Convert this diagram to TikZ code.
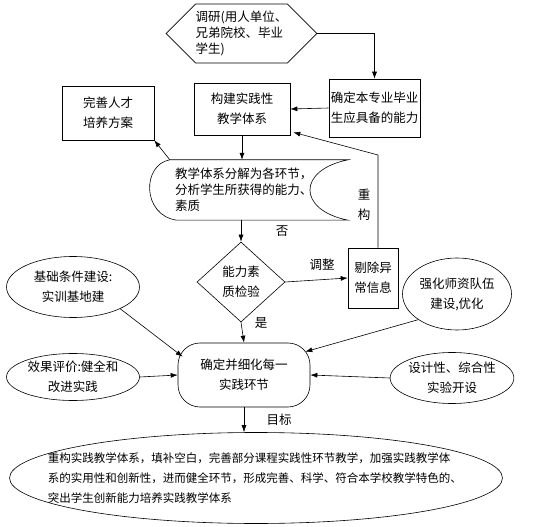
\documentclass[tikz,border=0pt]{standalone}
\usepackage{fontspec}
\setmainfont{Noto Sans CJK SC}
\usetikzlibrary{shapes.geometric,shapes.symbols,arrows.meta,arrows,positioning}
\tikzset{
base/.style={
  font=\fontsize{12.5}{20}\selectfont,
  align=center
  },
stepbox/.style={
  base,
  draw,
  semithick,
  inner sep=0pt
  },
oval/.style={
  stepbox,
  ellipse
  },
hexa/.style={
  stepbox,
  signal,
  signal to=west and east,
  signal pointer angle=90,
  font=\fontsize{12.5}{16}\selectfont,
  align=left
  },
check/.style={
  stepbox,
  diamond,
  aspect=1.1
  },
hub/.style={
  stepbox,
  rounded corners=22pt
  },
tag/.style={
  base
  }
}

\begin{document}
\begin{tikzpicture}[>={Latex[length=7pt,width=5pt]},x=1pt,y=-1pt]
\useasboundingbox (0,0) rectangle (550,527);

\node[hexa,minimum width=147pt,minimum height=59pt] (survey) at (241.5,33.5)
{调研(用人单位、\\兄弟院校、毕业\\学生)};

\node[stepbox,minimum width=91pt,minimum height=58pt] (ability) at (374.5,108)
{确定本专业毕业\\生应具备的能力};
\node[stepbox,minimum width=96pt,minimum height=52pt] (build) at (242,109)
{构建实践性\\教学体系};
\node[stepbox,minimum width=92pt,minimum height=54pt] (improve) at (108,113)
{完善人才\\培养方案};

\node[base,font=\fontsize{12.5}{16}\selectfont,align=left,text width=148pt,
  minimum width=198pt,minimum height=60pt,inner sep=0pt] (split) at (249,190)
{教学体系分解为各环节，\\分析学生所获得的能力、\\素质};
\draw[semithick] ([xshift=20pt]split.north west) -- (split.north east)
  .. controls +(-51,10) and +(-51,-10) .. (split.south east)
  -- ([xshift=27pt]split.south west)
  .. controls +(-35,-5) and +(-28,5) .. ([xshift=20pt]split.north west);

\node[check,minimum width=88pt,minimum height=80pt] (check) at (241,282)
{能力素\\质检验};
\node[stepbox,minimum width=50pt,minimum height=60pt] (remove) at (373,278)
{剔除异\\常信息};

\node[oval,minimum width=133pt,minimum height=61pt] (basis) at (73,287)
{基础条件建设:\\实训基地建};
\node[oval,minimum width=109pt,minimum height=72pt] (teacher) at (457,294)
{强化师资队伍\\建设,优化};
\node[hub,minimum width=132pt,minimum height=64pt] (hub) at (244,375)
{确定并细化每一\\实践环节};
\node[oval,minimum width=133pt,minimum height=47pt] (effect) at (73,377)
{效果评价:健全和\\改进实践};
\node[oval,minimum width=120pt,minimum height=51pt] (design) at (452,378)
{设计性、综合性\\实验开设};

\node[oval,font=\fontsize{11.5}{20}\selectfont,align=left,text width=416pt,
  inner xsep=-34pt,minimum width=493pt,minimum height=91pt] (goal) at (256,478)
{重构实践教学体系，填补空白，完善部分课程实践性环节教学，加强实践教学体\\
系的实用性和创新性，进而健全环节，形成完善、科学、符合本学校教学特色的、\\
突出学生创新能力培养实践教学体系};

\node[tag] (no) at (282,231) {否};
\node[tag] (adjust) at (322,265) {调整};
\node[tag] (yes) at (261,323) {是};
\node[tag] (target) at (279,420) {目标};
\node[tag] (rebuild) at (364,205) {重\\构};

\coordinate (bend) at (378,155);

\begin{scope}[semithick]
\draw[->] (survey.east) -| (ability.north);
\draw[->] (ability.west) -- (build.east);
\draw[->] (build.south) -- (build.south |- split.north);
\draw[->] ([xshift=20pt]split.north west) -- (improve.south east);
\draw[->] (check.north |- split.south) -- (check.north);
\draw[->] (check.east) -- (remove.west);
\draw[->] ([xshift=5pt]remove.north) -- (bend) -- ([xshift=3pt,yshift=3pt]build.south east);
\draw[->] (check.south) -- (hub.north);

\draw[->] (basis.south east) -- ([xshift=5pt,yshift=-14pt]hub.north west);
\draw[->] (teacher.south west) -- ([xshift=-5pt,yshift=-9pt]hub.north east);
\draw[->] (effect.east) -- (hub.west);
\draw[->] (design.west) -- (hub.east);

\draw[->] (hub.south) -- (hub.south |- goal.north);
\end{scope}
\end{tikzpicture}
\end{document}
